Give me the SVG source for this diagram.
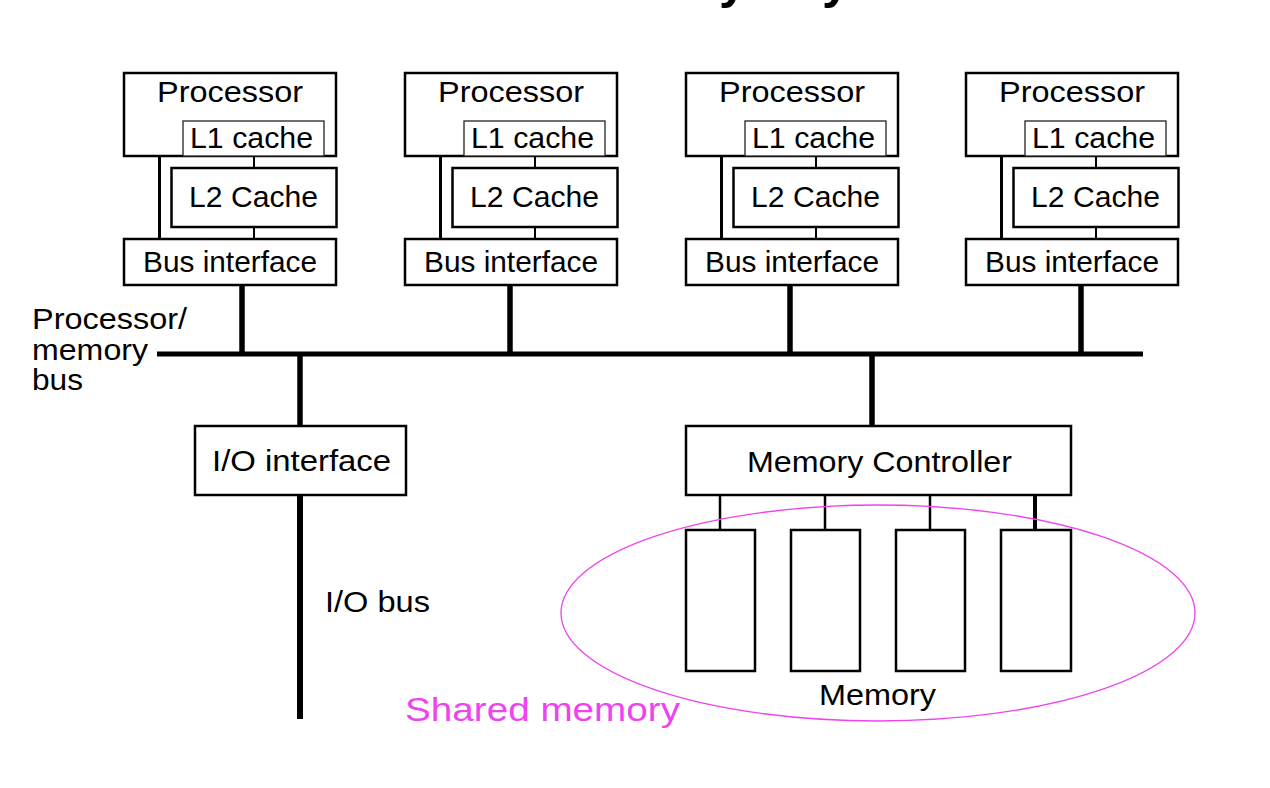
<svg xmlns="http://www.w3.org/2000/svg" width="1270" height="788" viewBox="0 0 1270 788">
<style>
  .box { fill: #fff; stroke: #000; stroke-width: 2.5; }
  .thin { fill: #fff; stroke: #222; stroke-width: 1.3; }
  .lbl { font-family: "Liberation Sans", Arial, sans-serif; font-size: 30px; fill: #000; }
  .bus { stroke: #000; stroke-width: 5; fill: none; }
  .drop { stroke: #000; stroke-width: 5.5; fill: none; }
  .link { stroke: #000; stroke-width: 2; fill: none; }
  .mag { fill: none; stroke: #ee44ee; stroke-width: 1.3; }
</style>
<defs>
  <g id="cpu">
    <rect class="box" x="124" y="73" width="212" height="83"/>
    <rect class="thin" x="183" y="121" width="141" height="35"/>
    <rect class="box" x="171.5" y="168" width="165" height="59"/>
    <rect class="box" x="124" y="239" width="212" height="46"/>
    <line x1="159.5" y1="156" x2="159.5" y2="239" stroke="#000" stroke-width="3"/>
    <line class="link" x1="254" y1="156" x2="254" y2="168"/>
    <line class="link" x1="254" y1="227" x2="254" y2="239"/>
    <text class="lbl" x="157" y="102" textLength="146" lengthAdjust="spacingAndGlyphs">Processor</text>
    <text class="lbl" x="190" y="148" textLength="123" lengthAdjust="spacingAndGlyphs">L1 cache</text>
    <text class="lbl" x="189" y="207" textLength="129" lengthAdjust="spacingAndGlyphs">L2 Cache</text>
    <text class="lbl" x="143" y="272" textLength="174" lengthAdjust="spacingAndGlyphs">Bus interface</text>
  </g>
</defs>
<rect width="1270" height="788" fill="#fff"/>
<g id="title">
  <text x="719" y="-2" font-family="Liberation Sans, Arial, sans-serif" font-weight="bold" font-size="50">y</text>
  <text x="822" y="-2" font-family="Liberation Sans, Arial, sans-serif" font-weight="bold" font-size="50">y</text>
</g>
<g id="connectors">
  <line class="bus" x1="157" y1="354" x2="1143" y2="354"/>
  <line class="drop" x1="242" y1="285" x2="242" y2="354"/>
  <line class="drop" x1="510" y1="285" x2="510" y2="354"/>
  <line class="drop" x1="790" y1="285" x2="790" y2="354"/>
  <line class="drop" x1="1081" y1="285" x2="1081" y2="354"/>
  <line class="drop" x1="300" y1="354" x2="300" y2="426"/>
  <line class="drop" x1="872" y1="354" x2="872" y2="426"/>
  <line x1="300" y1="495" x2="300" y2="719" stroke="#000" stroke-width="6"/>
  <line x1="720" y1="495" x2="720" y2="530" stroke="#000" stroke-width="2.5"/>
  <line x1="825" y1="495" x2="825" y2="530" stroke="#000" stroke-width="2.5"/>
  <line x1="930" y1="495" x2="930" y2="530" stroke="#000" stroke-width="2.5"/>
  <line x1="1035" y1="495" x2="1035" y2="530" stroke="#000" stroke-width="4"/>
</g>
<g id="cpu1"><use href="#cpu"/></g>
<g id="cpu2"><use href="#cpu" transform="translate(281,0)"/></g>
<g id="cpu3"><use href="#cpu" transform="translate(562,0)"/></g>
<g id="cpu4"><use href="#cpu" transform="translate(842,0)"/></g>
<g id="bus-label">
  <text class="lbl" x="32" y="329" textLength="155" lengthAdjust="spacingAndGlyphs">Processor/</text>
  <text class="lbl" x="32" y="360" textLength="116" lengthAdjust="spacingAndGlyphs">memory</text>
  <text class="lbl" x="32" y="390" textLength="51" lengthAdjust="spacingAndGlyphs">bus</text>
</g>
<g id="io-interface">
  <rect class="box" x="195" y="426" width="211" height="69"/>
  <text class="lbl" x="212" y="471" textLength="179" lengthAdjust="spacingAndGlyphs">I/O interface</text>
</g>
<g id="io-bus-label">
  <text class="lbl" x="325" y="612" textLength="105" lengthAdjust="spacingAndGlyphs">I/O bus</text>
</g>
<g id="memory-controller">
  <rect class="box" x="686" y="426" width="385" height="69"/>
  <text class="lbl" x="747" y="472" textLength="265" lengthAdjust="spacingAndGlyphs">Memory Controller</text>
</g>
<g id="memory">
  <rect class="box" x="686" y="530" width="69" height="141"/>
  <rect class="box" x="791" y="530" width="69" height="141"/>
  <rect class="box" x="896" y="530" width="69" height="141"/>
  <rect class="box" x="1001" y="530" width="70" height="141"/>
  <text class="lbl" x="819" y="705" textLength="117" lengthAdjust="spacingAndGlyphs">Memory</text>
</g>
<g id="shared-memory">
  <ellipse class="mag" cx="878" cy="613" rx="317" ry="108"/>
  <text x="405" y="721" font-family="Liberation Sans, Arial, sans-serif" font-size="33" fill="#ee44ee" textLength="275" lengthAdjust="spacingAndGlyphs">Shared memory</text>
</g>
</svg>
